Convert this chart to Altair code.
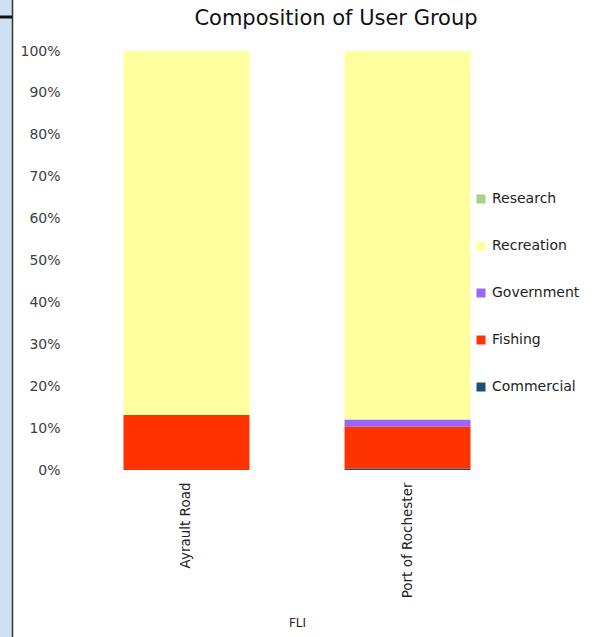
import altair as alt
import pandas as pd

sites = ["Ayrault Road", "Port of Rochester"]
groups = ["Research", "Recreation", "Government", "Fishing", "Commercial"]
stack_rank = [4, 3, 2, 1, 0]
colors = ["#a9d18e", "#ffffa0", "#9966ff", "#ff3300", "#1f4e79"]
ayrault = [0.0, 86.9, 0.0, 13.1, 0.0]
rochester = [0.0, 88.0, 1.7, 10.0, 0.3]
title_text = "Composition of User Group"

rows = []
for site, vals in zip(sites, [ayrault, rochester]):
    for g, r, v in zip(groups, stack_rank, vals):
        rows.append({"FLI": site, "Group": g, "rank": r, "Value": v})
df = pd.DataFrame(rows)

FONT = "DejaVu Sans"

bars = alt.Chart(df).mark_bar().encode(
    x=alt.X("FLI:N", sort=sites,
            scale=alt.Scale(paddingInner=0.43, paddingOuter=0.26),
            axis=alt.Axis(title="FLI", labelAngle=-90, labelPadding=12,
                          ticks=False, domain=False, grid=False,
                          labelFontSize=13.5,
                          labelColor="#222222", titleFontSize=12,
                          titleFontWeight="normal", titleColor="#222222",
                          titleY=147, titleBaseline="top", labelFont=FONT,
                          titleFont=FONT)),
    y=alt.Y("Value:Q", stack="normalize",
            scale=alt.Scale(domain=[0, 1]),
            axis=alt.Axis(title=None, format=".0%", values=[i / 10 for i in range(11)],
                          ticks=False, domain=False, grid=False,
                          labelPadding=6, labelFontSize=14,
                          labelColor="#404040", labelFont=FONT)),
    color=alt.Color("Group:N",
                    scale=alt.Scale(domain=groups, range=colors),
                    legend=alt.Legend(title=None, orient="none",
                                      legendX=408, legendY=141,
                                      symbolType="square", symbolSize=81,
                                      symbolStrokeWidth=0,
                                      labelFontSize=14, labelFont=FONT,
                                      labelColor="#222222", rowPadding=33,
                                      labelOffset=4)),
    order=alt.Order("rank:Q", sort="ascending"),
)

deco_df = pd.DataFrame({"k": [0]})

# chart title
title = alt.Chart(deco_df).mark_text(
    text=title_text, font=FONT, fontSize=21, color="#111111",
    align="center", baseline="middle"
).encode(x=alt.value(270), y=alt.value(-32))

# window frame decoration at the left edge of the screenshot
strip = alt.Chart(deco_df).mark_rect(color="#cfe0f2").encode(
    x=alt.value(-66), x2=alt.value(-54), y=alt.value(-51), y2=alt.value(586)
)
edge = alt.Chart(deco_df).mark_rule(color="#333333", strokeWidth=1.5).encode(
    x=alt.value(-53.5), y=alt.value(-51), y2=alt.value(586)
)
topbar = alt.Chart(deco_df).mark_rule(color="#111111", strokeWidth=3).encode(
    x=alt.value(-66), x2=alt.value(-54), y=alt.value(-34)
)

chart = alt.layer(strip, edge, topbar, title, bars).properties(
    width=462,
    height=419,
    autosize=alt.AutoSizeParams(type="none"),
    padding={"left": 66, "top": 51, "right": 74, "bottom": 167},
    background="white",
).configure_view(stroke=None)

chart.save("out.html", embed_options={"renderer": "svg", "actions": False})
